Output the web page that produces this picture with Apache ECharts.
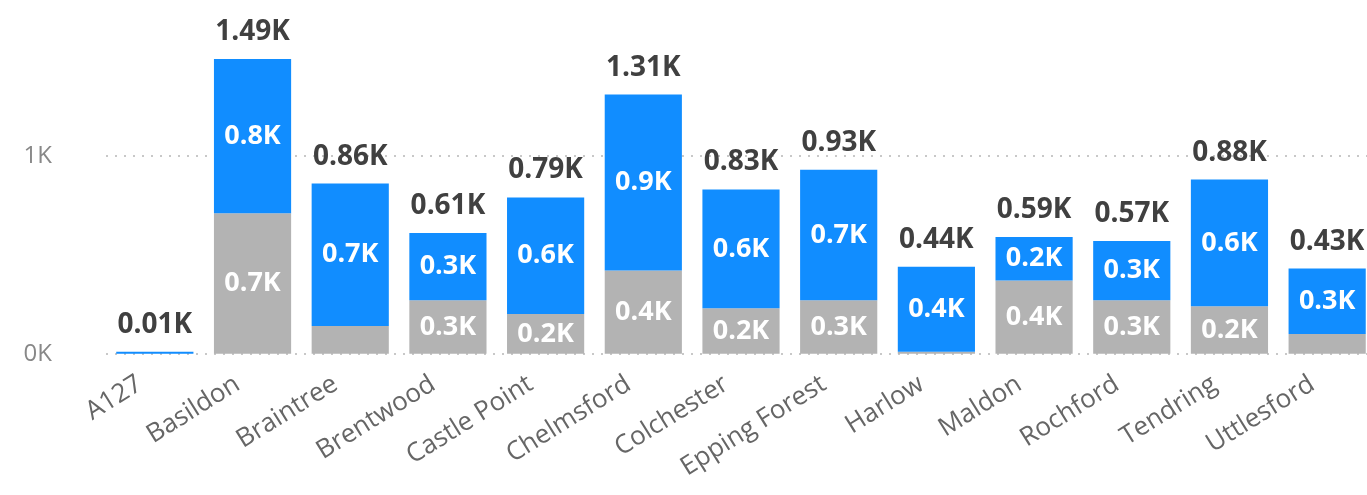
<!DOCTYPE html>
<html>
<head>
<meta charset="utf-8">
<script src="https://cdn.jsdelivr.net/npm/echarts@6/dist/echarts.min.js"></script>
<style>
  html, body { margin: 0; padding: 0; background: #fff; overflow: hidden; }
  #bars-view { width: 1376px; height: 495px; }
</style>
</head>
<body>
<div id="bars-view"></div>
<script>
// districts on the x axis
const districts = ["A127", "Basildon", "Braintree", "Brentwood", "Castle Point", "Chelmsford",
  "Colchester", "Epping Forest", "Harlow", "Maldon", "Rochford", "Tendring", "Uttlesford"];
// lower (grey) part of each bar
const greyValues = [0, 710, 140, 270, 200, 420, 230, 270, 10, 370, 270, 240, 100];
// upper (blue) part of each bar
const blueValues = [10, 780, 720, 340, 590, 890, 600, 660, 430, 220, 300, 640, 330];
// y axis gridlines / tick labels
const yTickValues = [0, 1000];
const yTickLabels = ["0K", "1K"];

const totals = districts.map((d, i) => greyValues[i] + blueValues[i]);

function kFmt(v, digits) {
  return (v / 1000).toFixed(digits) + "K";
}

const chartsDom = document.getElementById("bars-view");
const myChart = echarts.init(chartsDom);

const font = "'Segoe UI', 'Open Sans', 'Noto Sans', sans-serif";

const insideLabel = {
  show: true,
  position: "inside",
  color: "#ffffff",
  fontWeight: "bold",
  fontSize: 27,
  fontFamily: font,
  formatter: (p) => (p.value >= 150 ? kFmt(p.value, 1) : ""),
};

myChart.setOption({
  animation: false,
  textStyle: { fontFamily: font },
  grid: {
    left: 106,
    right: 0,
    top: 57,
    bottom: 138,
    containLabel: false,
  },
  xAxis: {
    type: "category",
    data: districts,
    axisLine: { show: false },
    axisTick: { show: false },
    axisLabel: {
      rotate: 32,
      margin: 52,
      fontSize: 26,
      lineHeight: 56,
      verticalAlign: "bottom",
      color: "#666666",
      fontFamily: font,
      interval: 0,
    },
  },
  yAxis: {
    type: "value",
    min: 0,
    max: 1500,
    interval: 1000,
    axisLine: { show: false },
    axisTick: { show: false },
    splitLine: { show: false },
    axisLabel: {
      margin: 54,
      fontSize: 24,
      color: "#888888",
      fontFamily: font,
      formatter: (v) => {
        const i = yTickValues.indexOf(v);
        return i >= 0 ? yTickLabels[i] : "";
      },
    },
  },
  series: [
    {
      name: "grey",
      type: "bar",
      stack: "total",
      barWidth: "79%",
      data: greyValues,
      itemStyle: { color: "#b3b3b3" },
      label: insideLabel,
      z: 3,
      markLine: {
        silent: true,
        symbol: "none",
        label: { show: false },
        lineStyle: { color: "#c8c8c8", width: 2, type: [2, 7] },
        data: yTickValues.map((v) => ({ yAxis: v })),
        z: 1,
      },
    },
    {
      name: "blue",
      type: "bar",
      stack: "total",
      data: blueValues,
      itemStyle: { color: "#118dff" },
      label: insideLabel,
      z: 3,
    },
    {
      name: "total",
      type: "bar",
      stack: "total",
      data: totals.map(() => 0),
      itemStyle: { color: "transparent" },
      label: {
        show: true,
        position: "top",
        distance: 13,
        color: "#404040",
        fontWeight: "bold",
        fontSize: 28,
        fontFamily: font,
        formatter: (p) => kFmt(totals[p.dataIndex], 2),
      },
    },
  ],
});
</script>
</body>
</html>
